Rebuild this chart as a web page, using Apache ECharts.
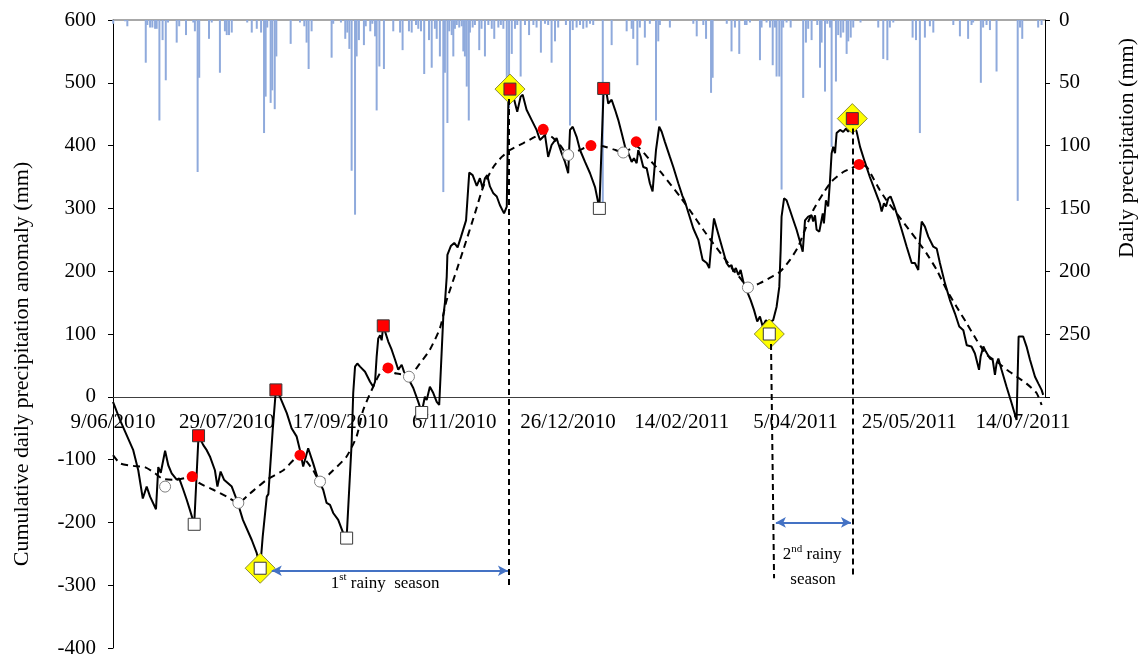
<!DOCTYPE html>
<html><head><meta charset="utf-8">
<script src="https://cdn.jsdelivr.net/npm/echarts@6/dist/echarts.min.js"></script>
<style>html,body{margin:0;padding:0;background:#fff}#c{width:1143px;height:658px}</style>
</head><body><div id="c"></div>
<script>
// x values are days since 9/06/2010
const xTickLabels = ['9/06/2010','29/07/2010','17/09/2010','6/11/2010','26/12/2010','14/02/2011','5/04/2011','25/05/2011','14/07/2011'];
const leftTicks = [-400,-300,-200,-100,0,100,200,300,400,500,600];
const rightTicks = [0,50,100,150,200,250];

const anomaly = [[0,-8],[3.1,-37],[6,-61],[8.9,-85],[11.1,-117],[13.1,-162],[14.8,-143],[16.3,-159],[18.9,-179],[19.9,-112],[21,-121],[22.9,-86],[24.3,-109],[25.8,-122],[28,-132],[29.1,-130],[30.9,-148],[32.4,-164],[33.8,-180],[35.7,-203],[37.6,-62],[39.7,-77],[41.2,-85],[42.6,-95],[44.8,-117],[45.9,-143],[47.3,-119],[48.8,-132],[52.2,-143],[54.4,-164],[57.1,-196],[61,-228],[63.2,-249],[64.7,-273],[65.8,-223],[67.6,-159],[68.3,-155],[70.2,-53],[71.6,11],[73.4,0],[76.4,-26],[78.5,-50],[80.7,-63],[82.2,-85],[83.6,-111],[85.8,-82],[88,-106],[90.2,-132],[92.4,-148],[93.9,-169],[95.4,-172],[96.8,-185],[99,-196],[101.2,-217],[102.7,-225],[104.9,-74],[105.6,6],[106.4,48],[107.4,53],[108.6,48],[109.3,51],[110.8,40],[113,24],[114.4,16],[115.2,24],[115.9,64],[116.6,93],[117.4,98],[118.1,90],[118.8,113],[121,88],[122.5,75],[124,59],[125.4,43],[126.9,51],[127.9,40],[129.8,29],[132,14],[134.2,-8],[135.7,-25],[137.1,0],[137.9,-5],[139.3,16],[140.8,6],[142.3,-8],[143.4,-13],[145.2,128],[145.9,149],[146.7,191],[147,226],[148.5,240],[150,245],[151.5,238],[153,255],[155.2,281],[156.6,357],[158.1,353],[159.9,336],[161.3,348],[162.5,332],[163.5,348],[164.5,353],[165.7,335],[167.2,324],[168.7,319],[170.1,305],[171.9,292],[173.1,303],[173.8,473],[174.5,490],[176,478],[177.7,454],[179.2,478],[180.1,481],[181.8,457],[184,441],[186.2,425],[187.7,409],[189.9,417],[191.3,382],[192.8,401],[195,412],[195.7,404],[197.2,388],[198.7,374],[200.1,356],[200.9,425],[202.1,430],[203.8,414],[205.3,393],[207.5,374],[209.7,356],[211.9,334],[213.8,300],[215.7,491],[217,483],[217.7,467],[219.2,473],[220.7,457],[222.1,441],[223.6,420],[225.1,398],[226.5,388],[228,374],[229,380],[230.2,372],[230.9,393],[232,382],[233.1,366],[234.6,364],[236,340],[237.2,327],[238.7,393],[240.1,430],[241.2,422],[242.6,406],[244.8,382],[246.3,366],[248.5,340],[250.3,320],[251.4,311],[255.1,268],[257.3,250],[259.2,218],[261,213],[262.1,205],[263.2,250],[264.2,284],[265.4,268],[266.8,250],[268.3,231],[269.7,213],[270.9,207],[271.9,210],[272.7,199],[273.8,205],[274.9,194],[275.9,202],[277.1,183],[278.5,170],[280.3,154],[281.8,138],[283.2,120],[284.4,128],[285.6,112],[287,122],[288.5,118],[290.2,122],[291.7,143],[292.9,175],[293.5,234],[293.9,287],[295,316],[296.1,313],[297.6,297],[299,282],[300.5,266],[302,247],[303.2,231],[304.2,281],[305.6,287],[307.1,289],[307.8,279],[308.6,289],[309.3,266],[310.5,263],[312,292],[312.5,276],[313.4,313],[314.4,303],[315.2,345],[315.9,388],[316.6,398],[317.4,388],[318.1,420],[319.6,425],[321,422],[322.2,427],[323.2,422],[324.3,430],[325,443],[326.9,422],[328.4,398],[330.5,374],[332.7,350],[334.9,329],[337.1,308],[337.9,295],[338.9,308],[339.8,303],[340.8,316],[341.8,319],[343,308],[344.5,292],[346.7,266],[348.9,239],[351.1,213],[352.5,213],[354,202],[354.7,250],[355.5,279],[356.9,271],[358.4,255],[360.6,239],[362.1,236],[363.5,213],[365.7,181],[367.9,154],[370.1,133],[372,112],[373.8,106],[375.3,82],[377.4,80],[378.9,69],[380.7,43],[381.4,64],[382.6,80],[383.7,72],[385.5,61],[386.7,59],[387.7,35],[388.4,53],[389.2,61],[390.6,43],[392.8,16],[395,-10],[397.2,-37],[398.1,96],[400.1,96],[401.6,80],[403.1,59],[405.3,32],[406.8,21],[408.2,11],[408.9,3]];

const smoothCurve = [[0,-93],[3.1,-106],[8.9,-110],[14,-112],[18.5,-122],[22,-131],[28,-132],[34.8,-127],[38.2,-138],[44.1,-148],[50,-159],[55.1,-169],[60.2,-154],[67.6,-132],[74.9,-117],[82.2,-93],[88,-117],[91,-135],[96.8,-117],[102.7,-95],[107.1,-63],[110,-21],[114.4,16],[118.8,43],[124.7,37],[130.5,35],[134.9,53],[139.3,75],[143.7,109],[146.7,154],[151.1,202],[154,234],[159.1,292],[162.8,335],[167.2,366],[170.9,382],[174.5,393],[180.4,404],[185.5,414],[189.1,420],[192.8,414],[196.5,401],[200.1,385],[205.3,393],[210.1,400],[215.5,399],[220,394],[224.3,389],[230,399],[236,377],[241.2,356],[249.2,319],[253.6,297],[259.5,266],[263.9,244],[268.3,223],[272.7,202],[276.4,186],[279.1,174],[284.4,181],[289.5,191],[293.2,199],[297.6,218],[301.2,239],[304.2,266],[307.8,297],[312.2,324],[315.9,343],[321,358],[324.7,364],[328,370],[331.3,366],[334.2,348],[337.1,329],[340,313],[344.5,292],[348.9,271],[353.3,250],[357.7,228],[362.1,202],[366.5,170],[370.9,143],[375.3,117],[379.7,90],[384.1,67],[388.5,56],[392.9,43],[397.3,32],[401.6,21],[406,6],[408.2,-13]];

const dailyRain = [[0.1,3],[5.3,1],[6.3,5],[14.4,34],[15.1,4],[16.3,6],[17.3,6],[18.5,7],[19.2,7],[20.4,80],[21.8,16],[23.2,48],[24.2,2],[28,18],[29.1,5],[32.1,12],[35.3,2],[36,9],[37.2,121],[37.9,46],[42.2,15],[43.4,2],[47,42],[49.2,9],[50,12],[51,12],[52.2,10],[59,2],[61,10],[63.2,7],[65.1,10],[66.4,90],[67.1,61],[67.8,6],[69.3,66],[70,56],[71.1,71],[71.8,29],[78.1,19],[82.2,2],[84.1,5],[85.1,18],[86,39],[87.3,9],[96.1,30],[96.8,3],[100.2,2],[102.1,15],[103,10],[103.9,23],[104.9,120],[106.4,155],[107.1,29],[108.1,16],[110.3,20],[111.1,5],[113.1,9],[114,3],[115.2,13],[115.9,72],[117.1,37],[119.1,39],[123.2,9],[126.2,10],[127.3,24],[130.1,9],[131.3,10],[133.2,4],[134.2,7],[135.4,9],[136.8,43],[138.9,16],[140.1,38],[141.5,7],[142.3,15],[143.7,29],[145.2,137],[145.9,42],[147,82],[147.8,9],[148.9,12],[149.6,29],[150.3,7],[151.1,4],[152.2,6],[153.3,5],[154,25],[154.7,29],[155.5,53],[156.4,80],[156.9,10],[158.1,6],[159.1,4],[161,24],[162,7],[163.5,29],[165,4],[166.5,7],[167.6,15],[169.4,6],[170.5,4],[171.6,7],[173.1,50],[174.1,70],[175.3,27],[176.7,7],[177.7,4],[179.2,45],[181.1,4],[182.9,12],[184.8,4],[186.2,6],[188.1,26],[189.9,3],[191.3,4],[192.8,34],[194.3,17],[195.7,6],[199.1,4],[200.9,84],[202.1,8],[203.8,6],[205.3,4],[206.7,7],[208.2,6],[209.7,3],[211.1,4],[215.3,149],[219.2,20],[225.8,9],[228,7],[228.7,15],[230.5,36],[231.6,6],[233.8,14],[236,3],[238.7,80],[239.7,17],[240.4,4],[244.8,6],[255.1,3],[256.6,13],[259.5,4],[260.7,15],[262.9,58],[263.6,46],[269.8,3],[271.9,25],[273.4,6],[275.3,27],[277.8,4],[278.5,4],[280,2],[284.4,32],[285.1,6],[287.3,2],[288.8,6],[290,36],[291,6],[291.7,45],[292.9,45],[293.9,135],[294.6,6],[296.1,2],[297.9,6],[303.4,62],[304.6,18],[305.6,7],[307.1,16],[309.6,4],[310.8,38],[311.5,18],[313,57],[314,3],[315.2,6],[315.9,101],[317.8,49],[318.8,12],[319.9,14],[321,10],[322.5,27],[323.2,17],[324.3,14],[325.4,6],[328.6,2],[336.4,6],[338.6,31],[340.4,32],[341.5,6],[343,2],[351.5,14],[353,16],[354.7,90],[356.9,14],[359.1,5],[360.6,10],[369.4,4],[372.3,13],[375.9,15],[377.4,4],[378.1,2],[381.5,50],[382.5,6],[384,4],[385.5,8],[388.4,41],[397.7,144],[398.7,6],[399.7,15],[406.7,6],[408.2,4]];

const peakSquares = [[37.6,-62],[71.6,11],[118.8,113],[174.5,490],[215.7,491],[325,443]];
const troughSquares = [[35.7,-203],[64.7,-273],[102.7,-225],[135.7,-25],[213.8,300],[288.5,100]];
const seasonDiamonds = [[64.7,-273],[174.5,490],[288.5,100],[325,443]];
const redDots = [[34.8,-127],[82.2,-93],[120.9,46],[189.1,426],[210.1,400],[230,406],[328,370]];
const whiteDots = [[22.9,-143],[55.1,-169],[91,-135],[130.1,32],[200.1,385],[224.3,389],[279.1,174]];

// season boundary lines and arrows (day, value)
const seasonLines = [[[173.8,490],[173.8,-300]],[[289.2,100],[290.6,-289]],[[325,443],[325,-289]]];
const seasonArrows = [[[69.8,-277],[173.6,-277]],[[291.4,-200],[324.4,-200]]];

const FONT = '"Liberation Serif","Times New Roman",serif';
const X_MAX = 409.7;

const chart = echarts.init(document.getElementById('c'), null, {renderer:'canvas'});
const option = {
  animation:false,
  backgroundColor:'#fff',
  grid:[
    {left:113, right:98, top:20, bottom:10, containLabel:false, outerBoundsMode:'none'},
    {left:113, right:98, top:20, height:376.8, containLabel:false, outerBoundsMode:'none'}
  ],
  xAxis:[
    {gridIndex:0, type:'value', min:0, max:X_MAX, interval:50,
     axisLine:{show:true, onZero:true, lineStyle:{color:'#404040', width:1}},
     axisTick:{show:false}, splitLine:{show:false}, axisLabel:{show:false}},
    {gridIndex:1, type:'value', min:0, max:X_MAX, interval:50, position:'bottom',
     axisLine:{show:false, onZero:false},
     axisTick:{show:false}, splitLine:{show:false},
     axisLabel:{show:true, showMaxLabel:false, margin:15, fontFamily:FONT, fontSize:21, color:'#000',
       formatter:v=>xTickLabels[Math.round(v/50)]||''}},
    {gridIndex:1, type:'value', min:0, max:X_MAX, position:'top',
     axisLine:{show:true, onZero:false, lineStyle:{color:'#8c8c8c', width:1.5}},
     axisTick:{show:false}, axisLabel:{show:false}, splitLine:{show:false}}
  ],
  yAxis:[
    {gridIndex:0, type:'value', min:leftTicks[0], max:leftTicks[leftTicks.length-1], interval:100,
     axisLine:{show:true, onZero:false, lineStyle:{color:'#000', width:1}},
     axisTick:{show:true, inside:false, length:5, lineStyle:{color:'#000'}},
     splitLine:{show:false},
     axisLabel:{margin:17, fontFamily:FONT, fontSize:21, color:'#000'}},
    {gridIndex:1, type:'value', min:0, max:300, interval:50, inverse:true, position:'right',
     axisLine:{show:true, onZero:false, lineStyle:{color:'#000', width:1}},
     axisTick:{show:true, inside:false, length:5, lineStyle:{color:'#000'}},
     splitLine:{show:false},
     axisLabel:{margin:14, fontFamily:FONT, fontSize:21, color:'#000',
       formatter:v=>rightTicks.indexOf(v)>=0?String(v):''}}
  ],
  series:[
    {type:'bar', xAxisIndex:1, yAxisIndex:1, data:dailyRain, barWidth:2, z:1,
     itemStyle:{color:'#8FAADC'}, silent:true},
    {type:'line', xAxisIndex:0, yAxisIndex:0, data:anomaly, showSymbol:false, z:3,
     lineStyle:{color:'#000', width:2}, silent:true},
    {type:'line', xAxisIndex:0, yAxisIndex:0, data:smoothCurve, showSymbol:false, smooth:0.2, z:3,
     lineStyle:{color:'#000', width:2, type:[7,5]}, silent:true},
    {type:'line', xAxisIndex:0, yAxisIndex:0, data:[], z:3, silent:true,
     markLine:{silent:true, symbol:['none','none'], label:{show:false},
       lineStyle:{color:'#000', width:2, type:[6,4]},
       data:seasonLines.map(s=>[{coord:s[0]},{coord:s[1]}])}},
    {type:'line', xAxisIndex:0, yAxisIndex:0, data:[], z:3, silent:true,
     markLine:{silent:true, symbol:['arrow','arrow'], symbolSize:[8,10], label:{show:false},
       lineStyle:{color:'#4472C4', width:2, type:'solid'},
       data:seasonArrows.map(s=>[{coord:s[0]},{coord:s[1]}])}},
    {type:'scatter', xAxisIndex:0, yAxisIndex:0, data:seasonDiamonds, symbol:'diamond', symbolSize:[30,30], z:4,
     itemStyle:{color:'#FFFF00', borderColor:'#8a8a3a', borderWidth:1, opacity:1}, silent:true},
    {type:'scatter', xAxisIndex:0, yAxisIndex:0, data:peakSquares, symbol:'rect', symbolSize:12, z:5,
     itemStyle:{color:'#FF0000', borderColor:'#3a3a3a', borderWidth:1, opacity:1}, silent:true},
    {type:'scatter', xAxisIndex:0, yAxisIndex:0, data:troughSquares, symbol:'rect', symbolSize:12, z:5,
     itemStyle:{color:'#FFFFFF', borderColor:'#3a3a3a', borderWidth:1, opacity:1}, silent:true},
    {type:'scatter', xAxisIndex:0, yAxisIndex:0, data:redDots, symbol:'circle', symbolSize:11, z:6,
     itemStyle:{color:'#FF0000', opacity:1}, silent:true},
    {type:'scatter', xAxisIndex:0, yAxisIndex:0, data:whiteDots, symbol:'circle', symbolSize:11, z:6,
     itemStyle:{color:'#FFFFFF', borderColor:'#7f7f7f', borderWidth:1, opacity:1}, silent:true}
  ]
};
chart.setOption(option);

// annotations
const annotations = [
  {pos:[119.6,-295], rich:'{n|1}{s|st}{n| rainy  season}'},
  {pos:[307.3,-249], rich:'{n|2}{s|nd}{n| rainy}'},
  {pos:[307.7,-288], rich:'{n|season}'}
];
const g = annotations.map(a=>{
  const p = chart.convertToPixel({xAxisIndex:0, yAxisIndex:0}, a.pos);
  return {type:'text', x:p[0], y:p[1], z:10, silent:true,
    style:{text:a.rich, align:'center', verticalAlign:'middle', textAlign:'center', textVerticalAlign:'middle',
      fill:'#000',
      rich:{n:{fontFamily:FONT, fontSize:17, lineHeight:20, verticalAlign:'bottom', fill:'#000'},
            s:{fontFamily:FONT, fontSize:11, lineHeight:20, verticalAlign:'top', fill:'#000'}}}};
});
g.push({type:'text', x:22, y:364, rotation:Math.PI/2, silent:true,
  style:{text:'Cumulative daily precipitation anomaly (mm)', fontFamily:FONT, fontSize:22, fill:'#000',
    align:'center', verticalAlign:'middle', textAlign:'center', textVerticalAlign:'middle'}});
g.push({type:'text', x:1127, y:148, rotation:Math.PI/2, silent:true,
  style:{text:'Daily precipitation (mm)', fontFamily:FONT, fontSize:22, fill:'#000',
    align:'center', verticalAlign:'middle', textAlign:'center', textVerticalAlign:'middle'}});
chart.setOption({graphic:{elements:g}});
</script>
</body></html>
